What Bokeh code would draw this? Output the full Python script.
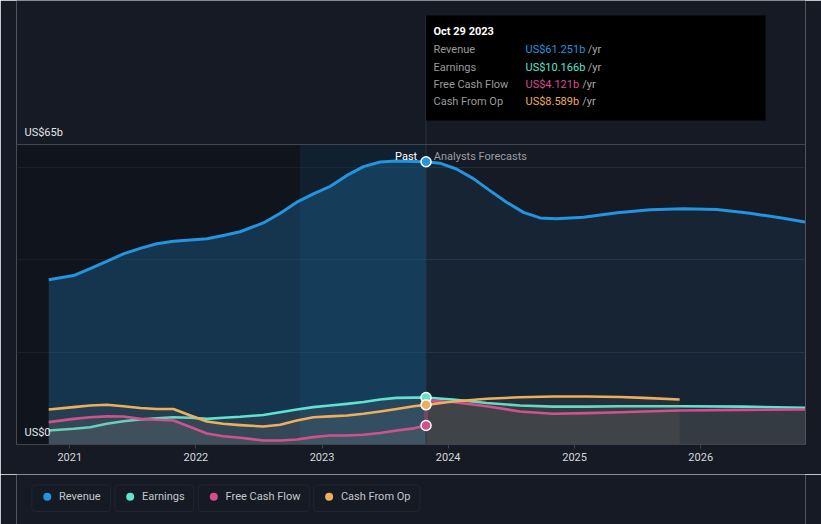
import pandas as pd
from bokeh.plotting import figure
from bokeh.layouts import column
from bokeh.models import (Range1d, FixedTicker, DatetimeTickFormatter, Label,
                          BoxAnnotation, Span)
from bokeh.core.properties import value
from bokeh.embed import file_html
from bokeh.resources import INLINE

# ---------------- data (US$ billions) ----------------
past_dates = ["2020-11-01", "2021-01-12", "2021-03-01", "2021-04-18", "2021-06-05",
              "2021-07-24", "2021-09-10", "2021-10-28", "2021-12-16", "2022-02-02",
              "2022-03-21", "2022-05-09", "2022-07-15", "2022-09-02", "2022-10-20",
              "2022-12-07", "2023-01-24", "2023-03-14", "2023-05-01", "2023-06-18",
              "2023-08-05", "2023-09-23", "2023-10-29"]
revenue_past = [35.7, 36.6, 38.1, 39.7, 41.3, 42.5, 43.5, 44.05, 44.3, 44.6, 45.3, 46.1,
                48.0, 50.1, 52.5, 54.3, 55.9, 58.3, 60.2, 61.2, 61.4, 61.3, 61.251]
earnings_past = [3.03, 3.4, 3.75, 4.5, 5.05, 5.4, 5.7, 5.9, 5.8, 5.55, 5.8, 6.0,
                 6.4, 7.0, 7.6, 8.1, 8.45, 8.8, 9.2, 9.75, 10.1, 10.15, 10.166]
fcf_past = [4.85, 5.55, 5.9, 6.1, 6.07, 5.55, 5.35, 5.2, 3.8, 2.4, 1.8, 1.45,
            0.87, 0.87, 1.08, 1.6, 1.95, 1.95, 2.1, 2.5, 3.03, 3.5, 4.121]
cfo_past = [7.58, 8.1, 8.45, 8.6, 8.3, 7.9, 7.7, 7.7, 6.3, 5.0, 4.5, 4.2,
            3.9, 4.27, 5.2, 5.9, 6.1, 6.28, 6.65, 7.15, 7.7, 8.3, 8.589]

rev_fc_dates = ["2023-10-29", "2023-12-08", "2024-01-25", "2024-03-14", "2024-05-01",
                "2024-06-18", "2024-08-06", "2024-09-23", "2024-11-10", "2025-01-27",
                "2025-05-04", "2025-08-08", "2025-11-12", "2026-02-17", "2026-05-24",
                "2026-08-28", "2026-10-30"]
revenue_fc = [61.251, 60.95, 59.7, 57.6, 55.0, 52.5, 50.3, 49.1, 48.9, 49.25,
              50.2, 50.85, 51.1, 50.9, 50.1, 49.0, 48.2]

low_fc_dates = ["2023-10-29", "2024-01-15", "2024-04-22", "2024-07-27", "2024-10-31",
                "2025-02-06", "2025-05-13", "2025-07-19", "2025-11-01", "2026-05-05",
                "2026-10-30"]
earnings_fc = [10.166, 9.75, 9.0, 8.45, 8.2, 8.2, 8.3, 8.3, 8.3, 8.2, 7.95]
fcf_fc = [9.5, 9.2, 8.3, 7.15, 6.65, 6.8, 7.0, 7.15, 7.37, 7.5, 7.58]
cfo_fc = [8.589, 9.3, 9.9, 10.25, 10.4, 10.4, 10.3, 10.1, 9.75]

series_names = ["Revenue", "Earnings", "Free Cash Flow", "Cash From Op"]
year_ticks = [2021, 2022, 2023, 2024, 2025, 2026]
y_label_values = [0, 65]
grid_values = [20, 40, 60]
hover_title = "Oct 29 2023"

# ---------------- styling ----------------
BG = "#151a24"
FONT = "Roboto"
C_REV, C_EARN, C_FCF, C_CFO = "#2394df", "#5ee3cd", "#d64c8e", "#eeaf5c"
colors = [C_REV, C_EARN, C_FCF, C_CFO]


def ms(d):
    return pd.Timestamp(d).value / 1e6


YEAR_MS = 365.25 * 86400000
T0 = ms("2021-01-01")


# page-pixel helpers, used only to place decorations (labels, boxes)
def px2x(px):
    return T0 + (px - 69.3) / 126.2 * YEAR_MS


def px2y(py):
    return (444 - py) / (300 / 65)


fig = figure(width=821, height=474, x_axis_type="datetime", output_backend="svg",
             toolbar_location=None,
             x_range=Range1d(px2x(16), px2x(805)), y_range=Range1d(0, px2y(0)),
             min_border_left=16, min_border_right=16, min_border_top=0, min_border_bottom=30,
             background_fill_color=BG, border_fill_color=BG, outline_line_color=None)

fig.yaxis.visible = False
fig.xgrid.visible = False
fig.ygrid.ticker = FixedTicker(ticks=grid_values)
fig.ygrid.grid_line_color = "#262c36"
fig.add_layout(Span(location=y_label_values[1], dimension="width", line_color="#40454e", line_width=1))

fig.xaxis.ticker = FixedTicker(ticks=[ms(f"{y}-01-01") for y in year_ticks])
fig.xaxis.formatter = DatetimeTickFormatter(years="%Y", months="%Y", days="%Y", hours="%Y")
fig.xaxis.axis_line_color = "#3d434d"
fig.xaxis.major_tick_line_color = "#3d434d"
fig.xaxis.major_tick_out = 4
fig.xaxis.major_tick_in = 0
fig.xaxis.minor_tick_line_color = None
fig.xaxis.major_label_text_color = "#d6d8dc"
fig.xaxis.major_label_text_font = FONT
fig.xaxis.major_label_text_font_size = "11px"
fig.xaxis.major_label_standoff = 4

hover = ms(past_dates[-1])
top = y_label_values[1]

# past background darkening and highlighted last-year band
fig.quad(left=px2x(16), right=hover, bottom=0, top=top, fill_color="#0b0e13", fill_alpha=0.4, line_color=None)
fig.quad(left=hover - YEAR_MS, right=hover, bottom=0, top=top, fill_color=C_REV, fill_alpha=0.09, line_color=None)

px_ = [ms(d) for d in past_dates]
rx = [ms(d) for d in rev_fc_dates]
lx = [ms(d) for d in low_fc_dates]

# revenue
fig.varea(x=px_, y1=0, y2=revenue_past, fill_color=C_REV, fill_alpha=0.25)
fig.varea(x=rx, y1=0, y2=revenue_fc, fill_color=C_REV, fill_alpha=0.09)
fig.line(px_ + rx, revenue_past + revenue_fc, line_color=C_REV, line_width=3, line_join="round")

# lower series
for past, fc, col in [(earnings_past, earnings_fc, C_EARN), (fcf_past, fcf_fc, C_FCF), (cfo_past, cfo_fc, C_CFO)]:
    xs = px_ + lx[:len(fc)]
    ys = past + fc
    fig.varea(x=xs, y1=0, y2=ys, fill_color="#a08c78", fill_alpha=0.12)
    fig.line(xs, ys, line_color=col, line_width=2.6, line_join="round")

# hover line
fig.segment(x0=hover, x1=hover, y0=0, y1=px2y(15), line_color="#2b3442", line_width=1)

# markers at hover
fig.scatter(x=[hover] * 4, y=[revenue_past[-1], earnings_past[-1], fcf_past[-1], cfo_past[-1]],
            fill_color=colors, line_color="white", line_width=1.5, size=10)

# axis value labels
for v, py in zip(y_label_values, [432, 132]):
    fig.add_layout(Label(x=px2x(24), y=px2y(py), text=f"US${v}b" if v else "US$0",
                         text_font=FONT, text_font_size="11px", text_color="#e4e6ea",
                         text_baseline="middle", text_align="left"))

fig.add_layout(Label(x=px2x(416.7), y=px2y(156), text="Past", text_font=FONT, text_font_size="11px",
                     text_color="#ffffff", text_baseline="middle", text_align="right"))
fig.add_layout(Label(x=px2x(433.3), y=px2y(156), text="Analysts Forecasts", text_font=FONT,
                     text_font_size="11px", text_color="#9a9da3", text_baseline="middle", text_align="left"))

# tooltip box
fig.add_layout(BoxAnnotation(left=hover, right=px2x(765), top=px2y(15), bottom=px2y(120),
                             fill_color="#000000", fill_alpha=1, line_color=None))
fig.add_layout(Label(x=px2x(433), y=px2y(31), text=hover_title, text_font=FONT, text_font_size="11px",
                     text_font_style="bold", text_color="#ffffff", text_baseline="middle"))
sep_y = [41, 58.3, 76, 93.3, 111.7]
fig.segment(x0=[px2x(433)] * 5, x1=[px2x(757)] * 5, y0=[px2y(s) for s in sep_y], y1=[px2y(s) for s in sep_y],
            line_color="#3a3a3a", line_width=1)
row_y = [49.3, 66.7, 84, 101.3]
yr_x = [587.3, 587.3, 581.7, 581.7]
vals = [revenue_past[-1], earnings_past[-1], fcf_past[-1], cfo_past[-1]]
for name, v, col, ry, yx in zip(series_names, vals, colors, row_y, yr_x):
    fig.add_layout(Label(x=px2x(433), y=px2y(ry), text=name, text_font=FONT, text_font_size="11px",
                         text_color="#9a9a9a", text_baseline="middle"))
    fig.add_layout(Label(x=px2x(525), y=px2y(ry), text=f"US${v:.3f}b", text_font=FONT, text_font_size="11px",
                         text_color=col, text_baseline="middle"))
    fig.add_layout(Label(x=px2x(yx), y=px2y(ry), text="/yr", text_font=FONT, text_font_size="11px",
                         text_color="#a8a8a8", text_baseline="middle"))

# ---------------- legend strip (page pixels 474..524) ----------------
leg = figure(width=821, height=50, output_backend="svg", toolbar_location=None,
             x_range=Range1d(0, 821), y_range=Range1d(524, 474),
             min_border=0, background_fill_color=BG, border_fill_color=BG, outline_line_color=None)
leg.axis.visible = False
leg.grid.visible = False

box_l = [16, 102.3, 189.3, 309.3]
box_r = [97.7, 184.3, 304.7, 419.7]
for name, col, l, r in zip(series_names, colors, box_l, box_r):
    leg.add_layout(BoxAnnotation(left=l, right=r, top=484.5, bottom=511,
                                 fill_alpha=0, line_color="#3a3f48", line_width=1, border_radius=3))
leg.scatter(x=[l + 16 for l in box_l], y=[496.3] * 4, fill_color=colors, line_color=None, size=8)
leg.text(x=[l + 28.3 for l in box_l], y=[496.3] * 4, text=series_names, text_font=value(FONT),
         text_font_size="11px", text_color="#c4c7cc", text_baseline="middle", text_align="left")

p = column(fig, leg, spacing=0)
open("out.html", "w").write(file_html(p, INLINE))
